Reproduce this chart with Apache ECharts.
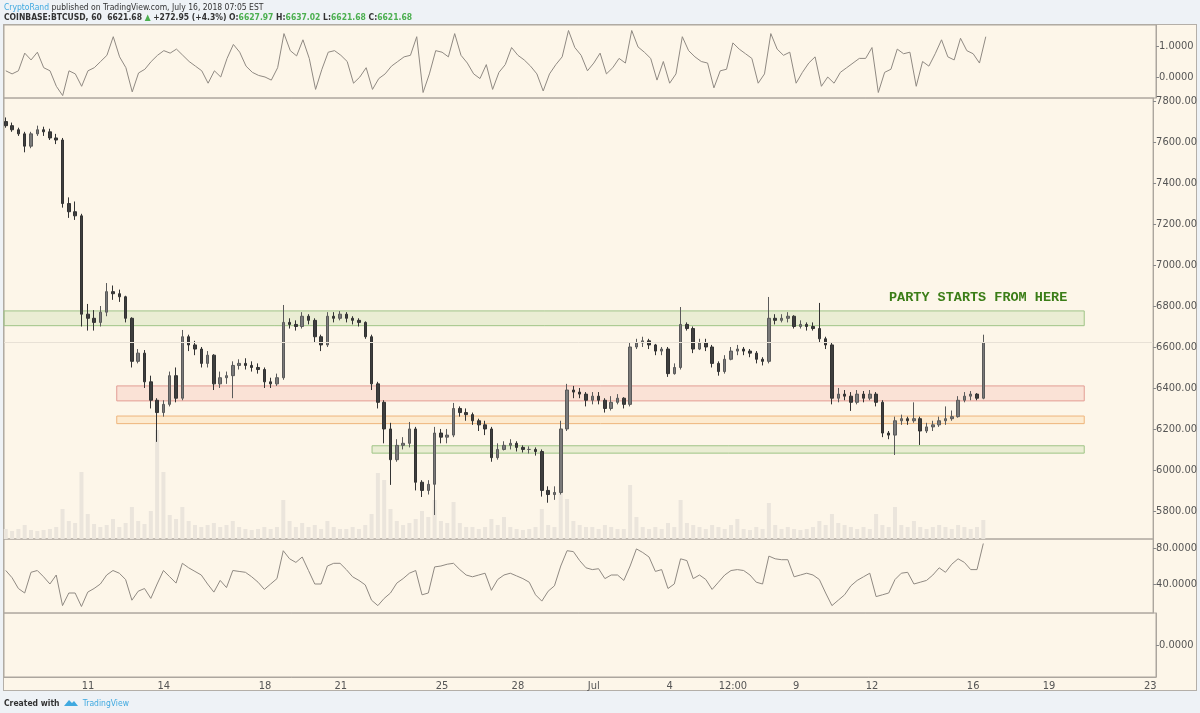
<!DOCTYPE html>
<html lang="en">
<head>
<meta charset="UTF-8">
<title>COINBASE:BTCUSD, 60</title>
<script src="https://cdn.jsdelivr.net/npm/echarts@6/dist/echarts.min.js"></script>
<style>
    body { margin: 0; background: #eef2f6; }
    #wrap { position: relative; width: 1200px; height: 713px; overflow: hidden; }
    #panel { position: absolute; left: 3px; top: 24px; width: 1192px; height: 665px; background: #fdf6e9; border: 1px solid #b4afa8; }
    #chart { position: absolute; left: 0; top: 0; width: 1200px; height: 713px; }
    .txt { position: absolute; left: 4px; white-space: nowrap; font-family: "Liberation Sans Narrow", "DejaVu Sans Condensed", Arial, sans-serif; font-size: 8.5px; color: #333; }
    .blue { color: #3fa9e0; }
    .g { color: #4caf50; }
</style>
</head>
<body>
<div id="wrap">
    <div id="panel"></div>
    <div id="chart"></div>
    <div class="txt" style="top:2px"><span class="blue">CryptoRand</span> published on TradingView.com, July 16, 2018 07:05 EST</div>
    <div class="txt" style="top:12px;font-weight:bold">COINBASE:BTCUSD, 60 &nbsp;6621.68 <span class="g">&#9650;</span> +272.95 (+4.3%) O:<span class="g">6627.97</span> H:<span class="g">6637.02</span> L:<span class="g">6621.68</span> C:<span class="g">6621.68</span></div>
    <div class="txt" style="top:698px;font-weight:bold">Created with
        <svg width="14" height="9" viewBox="0 0 14 9" style="vertical-align:-1px;margin:0 2px"><path d="M0 8 L5 2 L8 5 L10 3 L14 8 Z" fill="#3fa9e0"/></svg>
        <span class="blue" style="font-weight:normal">TradingView</span></div>
</div>
<script>
    // candles are 6 hours apart, x is the day number (June d -> d, July d -> 30 + d)
    var START = 7.75, STEP = 0.25;

    // [open, high, low, close]
    var candles = [
        [7700,7720,7670,7680],[7680,7695,7650,7660],[7660,7670,7630,7640],[7640,7650,7550,7580],
        [7580,7650,7570,7640],[7640,7680,7630,7660],[7660,7675,7630,7650],[7650,7665,7610,7620],
        [7620,7640,7590,7610],[7610,7620,7280,7300],[7300,7330,7230,7260],[7260,7310,7220,7240],
        [7240,7250,6700,6760],[6760,6810,6680,6740],[6740,6780,6680,6720],[6720,6800,6700,6770],
        [6770,6912,6750,6870],[6870,6900,6830,6860],[6860,6880,6820,6845],[6845,6850,6720,6740],
        [6740,6745,6500,6530],[6530,6590,6520,6570],[6570,6585,6400,6430],[6430,6460,6300,6340],
        [6340,6350,6137,6280],[6280,6340,6260,6320],[6320,6480,6310,6460],[6460,6500,6330,6350],
        [6350,6683,6340,6650],[6650,6660,6580,6610],[6610,6630,6560,6590],[6590,6600,6500,6520],
        [6520,6580,6500,6560],[6560,6565,6390,6420],[6420,6480,6400,6450],[6450,6480,6420,6460],
        [6460,6530,6350,6510],[6510,6540,6490,6520],[6520,6545,6490,6510],[6510,6530,6480,6500],
        [6500,6520,6470,6490],[6490,6500,6400,6430],[6430,6450,6400,6420],[6420,6470,6410,6450],
        [6450,6805,6440,6720],[6720,6740,6690,6710],[6710,6730,6680,6700],[6700,6770,6690,6750],
        [6750,6760,6710,6730],[6730,6740,6620,6650],[6650,6660,6580,6610],[6610,6770,6600,6750],
        [6750,6770,6720,6740],[6740,6775,6730,6760],[6760,6770,6720,6740],[6740,6750,6710,6730],
        [6730,6740,6700,6720],[6720,6725,6640,6650],[6650,6660,6390,6420],[6420,6430,6300,6330],
        [6330,6340,6130,6200],[6200,6230,5927,6050],[6050,6150,6040,6120],[6120,6160,6100,6130],
        [6130,6234,6110,6200],[6200,6210,5900,5940],[5940,5950,5868,5900],[5900,5950,5880,5930],
        [5930,6210,5780,6180],[6180,6200,6130,6160],[6160,6200,6130,6170],[6170,6327,6160,6300],
        [6300,6310,6260,6280],[6280,6300,6240,6270],[6270,6280,6220,6240],[6240,6250,6190,6220],
        [6220,6240,6170,6200],[6200,6210,6040,6060],[6060,6130,6050,6100],[6100,6140,6095,6120],
        [6120,6150,6100,6130],[6130,6140,6090,6110],[6110,6120,6085,6100],[6100,6115,6080,6100],
        [6100,6110,6070,6090],[6090,6100,5870,5900],[5900,5920,5840,5880],[5880,5920,5854,5890],
        [5890,6240,5880,6200],[6200,6420,6190,6390],[6390,6410,6350,6380],[6380,6400,6350,6370],
        [6370,6380,6310,6340],[6340,6380,6320,6360],[6360,6380,6320,6340],[6340,6350,6280,6300],
        [6300,6360,6290,6330],[6330,6370,6320,6350],[6350,6355,6300,6320],[6320,6620,6310,6600],
        [6600,6640,6590,6620],[6620,6650,6600,6630],[6630,6640,6590,6610],[6610,6615,6560,6580],
        [6580,6600,6560,6590],[6590,6600,6454,6470],[6470,6520,6465,6500],[6500,6795,6490,6710],
        [6710,6720,6680,6690],[6690,6700,6570,6590],[6590,6640,6585,6620],[6620,6640,6580,6600],
        [6600,6610,6500,6520],[6520,6530,6460,6480],[6480,6560,6470,6540],[6540,6600,6535,6580],
        [6580,6610,6560,6590],[6590,6600,6560,6580],[6580,6590,6550,6570],[6570,6580,6520,6540],
        [6540,6550,6510,6530],[6530,6844,6520,6740],[6740,6760,6710,6730],[6730,6760,6720,6740],
        [6740,6770,6720,6750],[6750,6755,6690,6700],[6700,6730,6690,6710],[6710,6720,6680,6700],
        [6700,6720,6680,6690],[6690,6815,6620,6640],[6640,6650,6590,6610],[6610,6620,6320,6350],
        [6350,6400,6330,6370],[6370,6390,6340,6360],[6360,6380,6288,6330],[6330,6390,6320,6370],
        [6370,6385,6330,6350],[6350,6390,6340,6370],[6370,6380,6310,6330],[6330,6340,6160,6180],
        [6180,6190,6150,6170],[6170,6260,6073,6240],[6240,6270,6220,6250],[6250,6260,6220,6240],
        [6240,6330,6230,6250],[6250,6260,6122,6190],[6190,6230,6180,6210],[6210,6240,6190,6220],
        [6220,6260,6210,6240],[6240,6310,6220,6250],[6250,6290,6240,6260],[6260,6360,6255,6340],
        [6340,6380,6330,6360],[6360,6385,6340,6370],[6370,6375,6340,6350],[6350,6660,6345,6621.68]
    ];

    var volume = [
        200,160,200,280,180,160,180,200,240,600, 360,320,1340,500,300,240,280,400,240,320,
        640,360,300,560,2180,1340,480,400,640,360, 280,240,280,320,240,280,360,240,200,180,
        200,240,200,240,780,360,240,320,240,280, 200,360,240,200,200,240,200,280,500,1320,
        1180,600,360,280,320,400,560,440,780,360, 320,740,320,240,240,200,240,400,280,440,
        240,200,180,200,240,600,280,240,1180,800, 360,280,240,240,200,280,240,200,200,1080,
        440,240,200,240,200,320,240,780,320,280, 240,200,280,240,200,280,400,200,180,240,
        200,720,280,200,240,200,180,200,240,360, 280,500,320,280,240,200,240,200,500,280,
        240,640,280,240,360,240,200,240,280,240, 200,280,240,200,240,380
    ];

    var oscTop = [
        0.2,0.1,0.2,0.77,0.55,0.8,0.3,0.2,-0.3,-0.6,
        0.2,0.1,-0.3,0.2,0.3,0.5,0.7,1.3,0.65,0.3,
        -0.48,0.13,0.25,0.5,0.7,0.85,0.77,0.9,0.7,0.5,
        0.35,0.2,-0.2,0.2,0,0.6,1.05,0.8,0.35,0.15,
        0.05,0,-0.1,0.3,1.4,0.85,0.68,1.2,0.6,-0.4,
        0.25,0.8,0.85,0.7,0.5,-0.2,0,0.3,-0.4,-0.05,
        0.1,0.35,0.5,0.65,0.7,1.3,-0.5,0.1,0.85,0.8,
        0.65,1.4,0.7,0.45,0.1,-0.05,0.4,-0.4,0.15,0.4,
        0.95,0.7,0.55,0.35,0.1,-0.45,0.1,0.4,0.65,1.5,
        0.95,0.7,0.2,0.45,0.77,0.1,0.3,0.6,0.45,1.5,
        0.97,0.8,0.6,-0.1,0.5,-0.2,0.1,1.3,0.85,0.65,
        0.5,0.45,-0.35,0.2,0.25,1.1,0.9,0.75,0.6,-0.2,
        0.1,1.4,0.9,0.7,0.8,-0.2,0.15,0.45,0.65,-0.3,
        0,-0.2,0.15,0.3,0.45,0.6,0.6,0.95,-0.5,0.15,
        0.25,0.9,0.75,0.8,-0.3,0.5,0.35,0.75,1.2,0.65,
        0.55,1.25,0.85,0.75,0.45,1.3
    ];

    var rsi = [
        55,47,35,30,53,55,48,40,50,16, 30,30,15,31,35,40,50,55,52,45,
        22,32,35,24,40,55,48,41,63,58, 54,50,40,31,44,36,55,54,53,48,
        42,34,40,46,77,68,64,70,55,40, 40,60,63,63,56,48,44,39,22,16,
        24,30,41,46,52,55,28,30,59,60, 62,63,56,50,48,50,52,33,45,50,
        52,49,46,42,28,21,32,38,60,77, 76,66,58,56,57,46,50,50,44,60,
        79,75,70,54,56,35,40,68,66,46, 50,45,34,42,50,55,56,55,50,42,
        40,71,68,67,67,48,50,52,50,45, 30,16,22,28,38,44,48,52,26,28,
        30,45,52,53,40,42,44,50,58,53, 62,68,64,56,56,85
    ];

    // drawn zones: [from day, to day, low price, high price]
    var zones = [
        [7.68, 50.5, 6704, 6776],
        [12.15, 50.5, 6337, 6410],
        [12.15, 50.5, 6226, 6263],
        [22.27, 50.5, 6082, 6118]
    ];
    var lastPrice = 6621.68;

    var dayTicks = [11, 14, 18, 21, 25, 28, 31, 34, 36.5, 39, 42, 46, 49, 53];
    var priceTicks = [5800, 6000, 6200, 6400, 6600, 6800, 7000, 7200, 7400, 7600, 7800];
    var oscTicks = [0, 1];
    var rsiTicks = [40, 80];

    var zoneStyles = [
        {color: 'rgba(170,205,130,0.22)', borderColor: '#9fc487', borderWidth: 1},
        {color: 'rgba(240,150,140,0.20)', borderColor: '#e29d94', borderWidth: 1},
        {color: 'rgba(255,196,120,0.22)', borderColor: '#eeb57c', borderWidth: 1},
        {color: 'rgba(170,205,130,0.22)', borderColor: '#9fc487', borderWidth: 1}
    ];

    var dayOf = function (i) { return START + i * STEP; };
    var lineColor = '#8f8982';
    var frame = '#aca69e';
    var labelColor = '#555';
    var labelFont = '"Liberation Sans Narrow", "DejaVu Sans Condensed", Arial, sans-serif';

    function dayLabel(v) {
        if (v === 36.5) return '12:00';
        if (v === 31) return 'Jul';
        return String(v > 31 ? v - 30 : v);
    }

    function xAxisFor(gridIndex, withLabels) {
        return {
            type: 'value', gridIndex: gridIndex, min: 7.68, max: 53.23,
            axisLine: {show: withLabels, onZero: false, lineStyle: {color: frame}},
            axisTick: {show: false},
            splitLine: {show: false},
            axisLabel: withLabels ? {
                customValues: dayTicks, formatter: dayLabel, color: labelColor,
                fontSize: 11, fontFamily: labelFont, margin: 4
            } : {show: false}
        };
    }

    function yAxisFor(gridIndex, min, max, ticks, digits) {
        return {
            type: 'value', gridIndex: gridIndex, position: 'right', min: min, max: max,
            axisLine: {show: true, lineStyle: {color: frame}},
            axisTick: {show: true, length: 3, customValues: ticks, lineStyle: {color: '#888'}},
            splitLine: {show: false},
            axisLabel: {
                customValues: ticks, color: labelColor, fontSize: 11, fontFamily: labelFont, margin: 3,
                formatter: function (v) { return v.toFixed(digits); }
            }
        };
    }

    var gridBase = {left: 4, right: 44, show: true, borderColor: frame, borderWidth: 1, backgroundColor: 'transparent'};

    var myChart = echarts.init(document.getElementById('chart'));
    myChart.setOption({
        animation: false,
        backgroundColor: 'transparent',
        grid: [
            Object.assign({top: 25, height: 73}, gridBase),
            Object.assign({top: 98, height: 441}, gridBase),
            Object.assign({top: 539, height: 74}, gridBase),
            Object.assign({top: 613, height: 64}, gridBase)
        ],
        xAxis: [xAxisFor(0, false), xAxisFor(1, false), xAxisFor(1, false), xAxisFor(2, false), xAxisFor(3, true)],
        yAxis: [
            yAxisFor(0, -0.677, 1.677, oscTicks, 4),
            yAxisFor(1, 5663, 7815, priceTicks, 2),
            {type: 'value', gridIndex: 1, min: 0, max: 8820, show: false},
            yAxisFor(2, 7.8, 90, rsiTicks, 4),
            yAxisFor(3, -1, 1, [0], 4)
        ],
        graphic: [{
            type: 'text', left: 889, top: 291, z: 10,
            style: {text: 'PARTY STARTS FROM HERE', fill: '#3b7d17', font: 'bold 13.5px "Liberation Mono", "DejaVu Sans Mono", monospace'}
        }],
        series: [
            {
                name: 'osc', type: 'line', xAxisIndex: 0, yAxisIndex: 0,
                data: oscTop.map(function (v, i) { return [dayOf(i), v]; }),
                showSymbol: false, lineStyle: {color: lineColor, width: 1}
            },
            {
                name: 'volume', type: 'bar', xAxisIndex: 2, yAxisIndex: 2, z: 1,
                data: volume.map(function (v, i) { return [dayOf(i), v]; }),
                barWidth: 4, itemStyle: {color: '#ebe5dc'}
            },
            {
                name: 'BTCUSD', type: 'candlestick', xAxisIndex: 1, yAxisIndex: 1, z: 3,
                data: candles.map(function (c, i) { return [dayOf(i), c[0], c[3], c[2], c[1]]; }),
                encode: {x: 0, y: [1, 2, 3, 4]},
                barWidth: 3,
                itemStyle: {color: '#7a7a7a', color0: '#3e3e3e', borderColor: '#5a5a5a', borderColor0: '#333333', borderWidth: 1},
                markLine: {
                    silent: true, symbol: 'none', label: {show: false},
                    lineStyle: {color: '#e8e1d6', type: 'solid', width: 1},
                    data: [{yAxis: lastPrice}]
                },
                markArea: {
                    silent: true,
                    data: zones.map(function (z, k) {
                        return [{coord: [z[0], z[3]], itemStyle: zoneStyles[k]}, {coord: [z[1], z[2]]}];
                    })
                }
            },
            {
                name: 'rsi', type: 'line', xAxisIndex: 3, yAxisIndex: 3,
                data: rsi.map(function (v, i) { return [dayOf(i), v]; }),
                showSymbol: false, lineStyle: {color: lineColor, width: 1}
            }
        ]
    });
</script>
</body>
</html>
